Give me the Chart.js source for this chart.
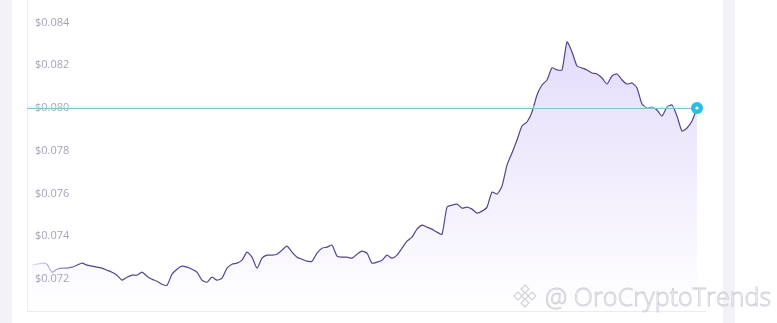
<!DOCTYPE html>
<html>
<head>
<meta charset="utf-8">
<script src="https://cdn.jsdelivr.net/npm/chart.js@4/dist/chart.umd.min.js"></script>
<style>
  html, body { margin: 0; padding: 0; background: #ffffff; }
  body { width: 777px; height: 323px; position: relative; overflow: hidden; font-family: "Open Sans", sans-serif; }
  .strip { position: absolute; top: 0; height: 323px; background: #f3f2f8; }
  .box { position: absolute; left: 27px; top: -2px; width: 679px; height: 313px;
         border-left: 1px solid #eceaf4; border-bottom: 1px solid #eceaf4; }
  .chart-wrap { position: absolute; left: 27px; top: 0; width: 680px; height: 312px; }
  .mark { position: absolute; left: 511px; top: 279px; display: flex; align-items: center;
          font-family: "Open Sans", sans-serif; font-weight: 300; font-size: 25px;
          color: #ffffff; -webkit-text-stroke: 0.8px #cfced8; letter-spacing: 0.1px; }
  .mark svg { margin-right: 6px; }
</style>
</head>
<body>
<div class="strip" style="left:0;width:12px"></div>
<div class="strip" style="left:723px;width:12px"></div>
<div class="box"></div>
<div class="chart-wrap"><canvas id="priceChart"></canvas></div>
<div class="mark">
  <svg width="28" height="28" viewBox="0 0 28 28" fill="none" stroke="#d3d2db" stroke-width="1.2">
    <path d="M14 3 L18 7 L14 11 L10 7 Z"/>
    <path d="M7 10 L11 14 L7 18 L3 14 Z"/>
    <path d="M21 10 L25 14 L21 18 L17 14 Z"/>
    <path d="M14 10.5 L17.5 14 L14 17.5 L10.5 14 Z"/>
    <path d="M14 17 L18 21 L14 25 L10 21 Z"/>
  </svg>
  <span>@ OroCryptoTrends</span>
</div>
<script>
// ==================== DATA ====================
// precio (USD), de izquierda a derecha
const prices = [
  0.072646, 0.072693, 0.072740, 0.072693, 0.072318, 0.072459, 0.072506, 0.072506, 0.072552, 0.072646,
  0.072740, 0.072646, 0.072599, 0.072552, 0.072506, 0.072412, 0.072318, 0.072178, 0.071944, 0.072084,
  0.072178, 0.072178, 0.072318, 0.072131, 0.071990, 0.071897, 0.071756, 0.071709, 0.072225, 0.072459,
  0.072599, 0.072552, 0.072459, 0.072318, 0.071944, 0.071850, 0.072084, 0.071944, 0.072037, 0.072506,
  0.072693, 0.072740, 0.072880, 0.073255, 0.073021, 0.072506, 0.072974, 0.073115, 0.073115, 0.073161,
  0.073349, 0.073536, 0.073255, 0.073021, 0.072927, 0.072833, 0.072833, 0.073208, 0.073442, 0.073489,
  0.073583, 0.073068, 0.073021, 0.073021, 0.072974, 0.073161, 0.073302, 0.073208, 0.072740, 0.072787,
  0.072880, 0.073115, 0.072974, 0.073115, 0.073442, 0.073770, 0.073958, 0.074332, 0.074520, 0.074426,
  0.074332, 0.074192, 0.074098, 0.075363, 0.075457, 0.075503, 0.075316, 0.075363, 0.075269, 0.075082,
  0.075175, 0.075363, 0.076065, 0.075972, 0.076346, 0.077330, 0.077892, 0.078501, 0.079157, 0.079344,
  0.079813, 0.080609, 0.081077, 0.081312, 0.081874, 0.081780, 0.081780, 0.083091, 0.082623, 0.081967,
  0.081874, 0.081780, 0.081639, 0.081593, 0.081405, 0.081124, 0.081499, 0.081593, 0.081312, 0.081124,
  0.081171, 0.080937, 0.080187, 0.080000, 0.080047, 0.079906, 0.079625, 0.080047, 0.080141, 0.079625,
  0.078923, 0.079063, 0.079391, 0.080000
];
const labels = prices.map((_, i) => i);
const tickValues = [0.072, 0.074, 0.076, 0.078, 0.080, 0.082, 0.084];
const currentPrice = prices[prices.length - 1];

const lineColor = '#54458a';
const markerColor = '#2bbde3';
const refLineColor = '#8dbcc7';

// linea de precio actual + marcador del ultimo punto
const currentPricePlugin = {
    id: 'currentPrice',
    afterDatasetsDraw(chart) {
        const { ctx, chartArea, scales } = chart;
        const meta = chart.getDatasetMeta(0);
        const last = meta.data[meta.data.length - 1];
        const y = Math.round(scales.y.getPixelForValue(currentPrice)) + 0.5;
        ctx.save();
        // brillo suave encima de la linea
        ctx.strokeStyle = 'rgba(205, 245, 252, 0.45)';
        ctx.lineWidth = 2;
        ctx.beginPath();
        ctx.moveTo(chartArea.left - 5, y - 1.5);
        ctx.lineTo(last.x, y - 1.5);
        ctx.stroke();
        ctx.strokeStyle = refLineColor;
        ctx.lineWidth = 1;
        ctx.beginPath();
        ctx.moveTo(chartArea.left - 5, y);
        ctx.lineTo(last.x, y);
        ctx.stroke();
        ctx.fillStyle = markerColor;
        ctx.beginPath();
        ctx.arc(last.x, last.y, 6, 0, Math.PI * 2);
        ctx.fill();
        ctx.fillStyle = '#ffffff';
        ctx.beginPath();
        ctx.arc(last.x, last.y, 1.6, 0, Math.PI * 2);
        ctx.fill();
        ctx.restore();
    }
};

const canvas = document.getElementById('priceChart');
const priceChart = new Chart(canvas.getContext('2d'), {
    type: 'line',
    data: {
        labels: labels,
        datasets: [{
            data: prices,
            borderWidth: 1.2,
            tension: 0.2,
            pointRadius: 0,
            fill: 'start',
            borderColor: function(context) {
                const area = context.chart.chartArea;
                if (!area) return lineColor;
                const g = context.chart.ctx.createLinearGradient(area.left, 0, area.left + 50, 0);
                g.addColorStop(0, 'rgba(84, 69, 138, 0.12)');
                g.addColorStop(1, lineColor);
                return g;
            },
            backgroundColor: function(context) {
                const area = context.chart.chartArea;
                if (!area) return 'rgba(196, 176, 246, 0.3)';
                const g = context.chart.ctx.createLinearGradient(0, area.top + 40, 0, area.bottom);
                g.addColorStop(0, 'rgba(196, 176, 246, 0.45)');
                g.addColorStop(1, 'rgba(196, 176, 246, 0)');
                return g;
            }
        }]
    },
    options: {
        responsive: true,
        maintainAspectRatio: false,
        animation: false,
        layout: { padding: { left: 5, right: 10, top: 0, bottom: 0 } },
        plugins: {
            legend: { display: false },
            tooltip: { enabled: false }
        },
        scales: {
            x: {
                display: false,
                offset: false
            },
            y: {
                min: 0.070456,
                max: 0.085053,
                grid: { display: false },
                border: { display: false },
                afterBuildTicks: function(scale) {
                    scale.ticks = tickValues.map(v => ({ value: v }));
                },
                afterFit: function(scale) {
                    scale.width = 0;
                    scale.paddingTop = 0;
                    scale.paddingBottom = 0;
                },
                ticks: {
                    mirror: true,
                    padding: 3,
                    color: '#a5a4b8',
                    font: { family: '"Open Sans", sans-serif', size: 11 },
                    callback: function(value) {
                        return '$' + value.toFixed(3);
                    }
                }
            }
        }
    },
    plugins: [currentPricePlugin]
});
</script>
</body>
</html>
